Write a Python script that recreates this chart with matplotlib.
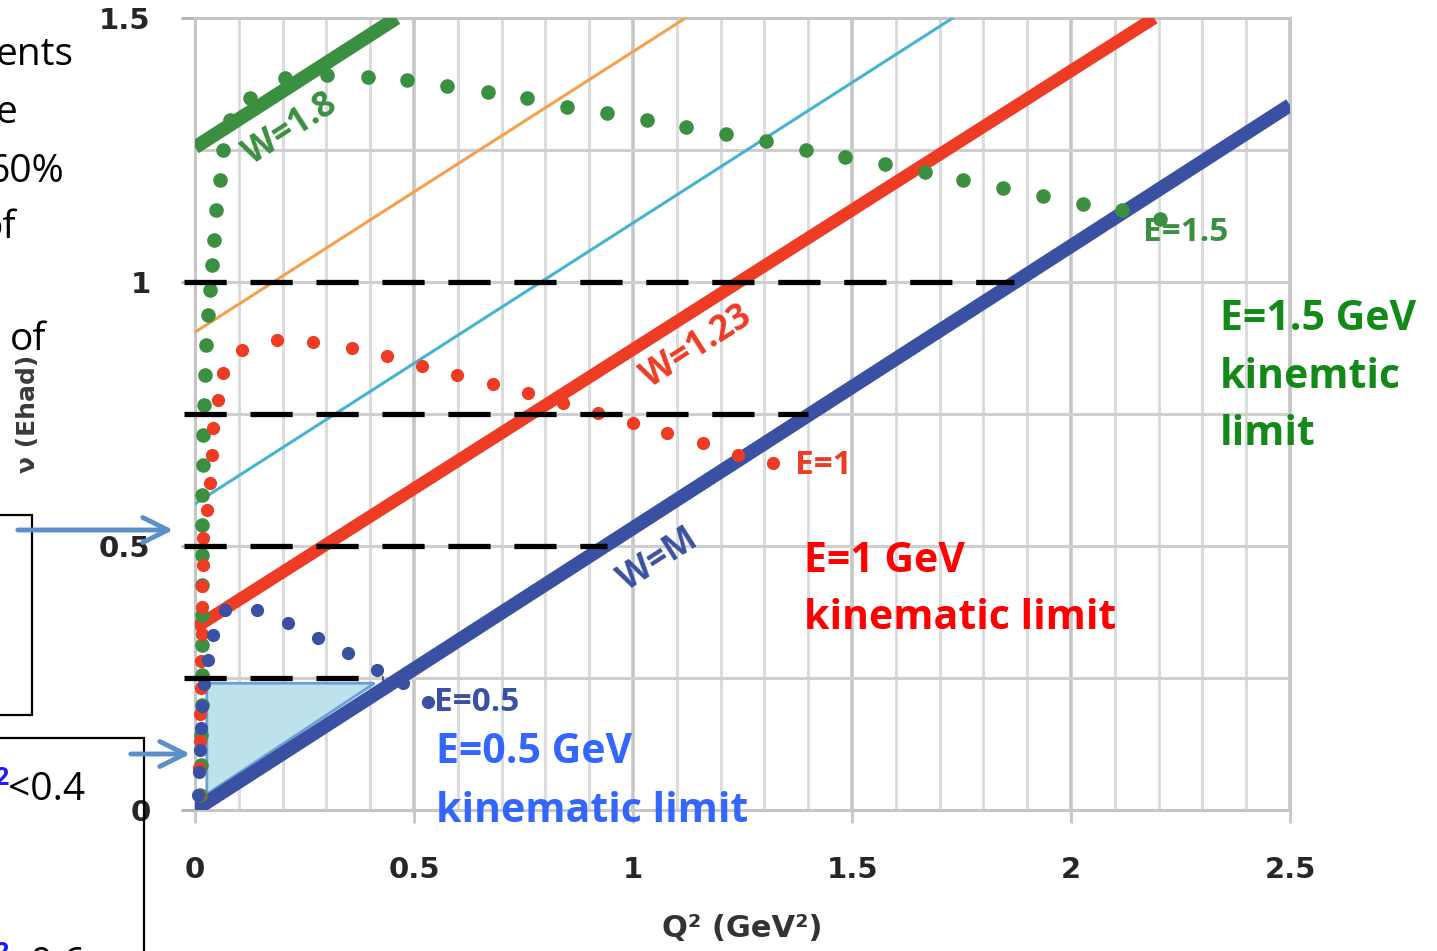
import matplotlib
matplotlib.use("Agg")
import matplotlib.pyplot as plt
from matplotlib.patches import Rectangle, FancyArrowPatch, Polygon

W_PX, H_PX = 1437, 951

# lines of constant W: (Q2, nu) end points
wm_q2, wm_nu = [0.0, 2.5], [0.0, 1.335]
w123_q2, w123_nu = [0.0, 2.19], [0.345, 1.5]
w14_q2, w14_nu = [0.0, 1.73], [0.58, 1.5]
w16_q2, w16_nu = [0.0, 1.12], [0.905, 1.5]
w18_q2, w18_nu = [0.0, 0.46], [1.255, 1.5]

# beam energy kinematic limits (dotted)
e05_q2 = [0.007, 0.009, 0.011, 0.014, 0.016, 0.021, 0.030, 0.041, 0.068, 0.142,
          0.212, 0.281, 0.349, 0.416, 0.475, 0.532]
e05_nu = [0.028, 0.072, 0.114, 0.155, 0.197, 0.239, 0.284, 0.331, 0.379, 0.379,
          0.354, 0.326, 0.297, 0.265, 0.241, 0.205]

e1_q2 = [0.009, 0.009, 0.011, 0.011, 0.014, 0.014, 0.016, 0.016, 0.017, 0.018,
         0.018, 0.027, 0.034, 0.039, 0.041, 0.053, 0.064, 0.107, 0.187, 0.269,
         0.358, 0.438, 0.518, 0.598, 0.680, 0.760, 0.840, 0.920, 1.000, 1.078,
         1.160, 1.240, 1.320]
e1_nu = [0.028, 0.079, 0.130, 0.181, 0.232, 0.283, 0.334, 0.385, 0.425, 0.464,
         0.515, 0.568, 0.619, 0.672, 0.723, 0.777, 0.828, 0.871, 0.890, 0.886,
         0.875, 0.860, 0.841, 0.824, 0.807, 0.790, 0.771, 0.752, 0.733, 0.714,
         0.695, 0.672, 0.657]

e15_q2 = [0.011, 0.014, 0.014, 0.016, 0.016, 0.016, 0.016, 0.016, 0.016, 0.016,
          0.016, 0.018, 0.018, 0.021, 0.023, 0.025, 0.030, 0.034, 0.039, 0.043,
          0.048, 0.057, 0.064, 0.080, 0.126, 0.205, 0.301, 0.395, 0.484, 0.575,
          0.669, 0.758, 0.849, 0.941, 1.032, 1.121, 1.212, 1.304, 1.395, 1.484,
          1.575, 1.667, 1.753, 1.845, 1.936, 2.027, 2.116, 2.203]
e15_nu = [0.028, 0.085, 0.142, 0.199, 0.256, 0.313, 0.369, 0.426, 0.483, 0.540,
          0.597, 0.653, 0.710, 0.767, 0.824, 0.881, 0.938, 0.985, 1.032, 1.080,
          1.136, 1.193, 1.250, 1.307, 1.348, 1.386, 1.392, 1.388, 1.383, 1.371,
          1.360, 1.348, 1.331, 1.320, 1.307, 1.294, 1.280, 1.267, 1.250, 1.237,
          1.223, 1.208, 1.193, 1.178, 1.163, 1.148, 1.136, 1.119]

# horizontal cuts in nu, ending on the W=M line
cut_nu = [0.25, 0.5, 0.75, 1.0]
cut_q2_end = [0.43, 0.94, 1.40, 1.87]

# shaded region
tri_q2 = [0.027, 0.41, 0.027]
tri_nu = [0.24, 0.24, 0.03]

GREEN = '#3b8f40'
RED = '#ee3b24'
BLUE = '#3a50a2'
ORANGE = '#f5a04c'
CYAN = '#47b3d2'
SANS = ['Open Sans', 'DejaVu Sans']
AXF = ['DejaVu Sans']

plt.rcParams['font.family'] = SANS

fig = plt.figure(figsize=(W_PX / 100, H_PX / 100), dpi=100)
ax = fig.add_axes([195 / W_PX, (H_PX - 810) / H_PX, 1095 / W_PX, 792 / H_PX])


def fx(px):
    return px / W_PX


def fy(py):
    return 1 - py / H_PX


ax.set_xlim(0, 2.5)
ax.set_ylim(0, 1.5)
ax.set_xticks([0, 0.5, 1, 1.5, 2, 2.5])
ax.set_xticklabels(['0', '0.5', '1', '1.5', '2', '2.5'])
ax.set_xticks([i / 10 for i in range(26)], minor=True)
ax.set_yticks([0, 0.5, 1, 1.5])
ax.set_yticklabels(['0', '0.5', '1', '1.5'])
ax.set_yticks([0.25, 0.75, 1.25], minor=True)
ax.grid(which='minor', axis='x', color='#dcdcdc', lw=2.2)
ax.grid(which='major', axis='x', color='#c6c6c6', lw=2.6)
ax.grid(which='both', axis='y', color='#cfcfcf', lw=2.2)
ax.set_axisbelow(True)
for s in ax.spines.values():
    s.set_color('#c6c6c6')
    s.set_linewidth(2.2)
ax.tick_params(which='major', axis='x', direction='out', length=9, width=2,
               color='#c6c6c6', pad=24, labelcolor='#262626')
ax.tick_params(which='major', axis='y', direction='out', length=10, width=2,
               color='#b0b0b0', pad=22, labelcolor='#262626')
ax.tick_params(which='minor', length=0)
for lab in ax.get_xticklabels() + ax.get_yticklabels():
    lab.set_fontweight('bold')
    lab.set_fontsize(21)
    lab.set_family(AXF)

ax.set_xlabel('Q² (GeV²)', fontsize=22, fontweight='bold', color='#333333',
              labelpad=22, family=AXF)
ax.set_ylabel('ν (Ehad)', fontsize=18, fontweight='bold', color='#3a3a3a',
              family=AXF)
ax.yaxis.set_label_coords(-0.142, 0.5)

ax.add_patch(Polygon(list(zip(tri_q2, tri_nu)), closed=True,
                     facecolor='#bde2ec', edgecolor='#6c9fd6', lw=2, zorder=2))

ax.plot(w16_q2, w16_nu, color=ORANGE, lw=2.2, zorder=3)
ax.plot(w14_q2, w14_nu, color=CYAN, lw=2.2, zorder=3)
ax.plot(w18_q2, w18_nu, color=GREEN, lw=10, solid_capstyle='butt', zorder=3)
ax.plot(w123_q2, w123_nu, color=RED, lw=9, solid_capstyle='butt', zorder=3)
ax.plot(wm_q2, wm_nu, color=BLUE, lw=10, solid_capstyle='butt', zorder=3)

ax.plot(e15_q2, e15_nu, 'o', ms=10.5, color=GREEN, mec='none', zorder=4,
        clip_on=False)
ax.plot(e1_q2, e1_nu, 'o', ms=9.5, color=RED, mec='none', zorder=4,
        clip_on=False)
ax.plot(e05_q2, e05_nu, 'o', ms=9.5, color=BLUE, mec='none', zorder=4,
        clip_on=False)

for nu, q2 in zip(cut_nu, cut_q2_end):
    ax.plot([-0.025, q2], [nu, nu], color='black', lw=3.8, dashes=(8, 4.5),
            dash_capstyle='butt', zorder=5, clip_on=False)

# labels on the curves
lab_kw = dict(fontsize=25, fontweight='bold', rotation=32.7, ha='center',
              va='center', rotation_mode='anchor', zorder=6)
ax.text(0.217, 1.288, 'W=1.8', color=GREEN, **lab_kw)
ax.text(1.146, 0.877, 'W=1.23', color=RED, **lab_kw)
ax.text(1.057, 0.473, 'W=M', color=BLUE, **lab_kw)
end_kw = dict(fontsize=24, fontweight='bold', ha='left', va='center', zorder=6)
ax.text(1.37, 0.653, 'E=1', color=RED, **end_kw)
ax.text(2.165, 1.093, 'E=1.5', color=GREEN, **end_kw)
ax.text(0.545, 0.203, 'E=0.5', color=BLUE, **end_kw)

# slide annotations
big = dict(fontsize=29.5, fontweight='bold', va='baseline', ha='left')
fig.text(fx(1220), fy(330), 'E=1.5 GeV', color='#138a17', **big)
fig.text(fx(1220), fy(388), 'kinemtic', color='#138a17', **big)
fig.text(fx(1220), fy(445), 'limit', color='#138a17', **big)
fig.text(fx(804), fy(572), 'E=1 GeV', color='#ff0000', **big)
fig.text(fx(804), fy(629), 'kinematic limit', color='#ff0000', **big)
fig.text(fx(436), fy(763), 'E=0.5 GeV', color='#3366ff', **big)
fig.text(fx(436), fy(822), 'kinematic limit', color='#3366ff', **big)

# cropped slide text on the left
side = dict(fontsize=28, va='baseline', ha='left', color='black')
fig.text(fx(-4), fy(65), 'ents', **side)
fig.text(fx(-4), fy(123), 'e', **side)
fig.text(fx(-12), fy(182), '60%', **side)
fig.text(fx(-20), fy(238), 'of', **side)
fig.text(fx(10), fy(350), 'of', **side)
fig.text(fx(8), fy(800), '<0.4', **side)
fig.text(fx(8), fy(785), '2', fontsize=18, fontweight='bold', color='#1a1aff',
         ha='right', va='baseline')
fig.text(fx(8), fy(975), '<0.6', **side)
fig.text(fx(8), fy(960), '2', fontsize=18, fontweight='bold', color='#1a1aff',
         ha='right', va='baseline')

fig.add_artist(Rectangle((fx(-10), fy(715)), fx(42), 200 / H_PX, fill=False,
                         edgecolor='black', lw=1.6, transform=fig.transFigure))
fig.add_artist(Rectangle((fx(-10), fy(1000)), fx(154), 262 / H_PX, fill=False,
                         edgecolor='black', lw=1.6, transform=fig.transFigure))

arrow_kw = dict(transform=fig.transFigure, color='#5b8fc9', lw=3.5,
                arrowstyle='->,head_length=0.9,head_width=0.45',
                mutation_scale=20)
fig.add_artist(FancyArrowPatch((fx(15), fy(530)), (fx(176), fy(530)), **arrow_kw))
fig.add_artist(FancyArrowPatch((fx(128), fy(754)), (fx(193), fy(754)), **arrow_kw))

fig.savefig('out.png', dpi=100)
